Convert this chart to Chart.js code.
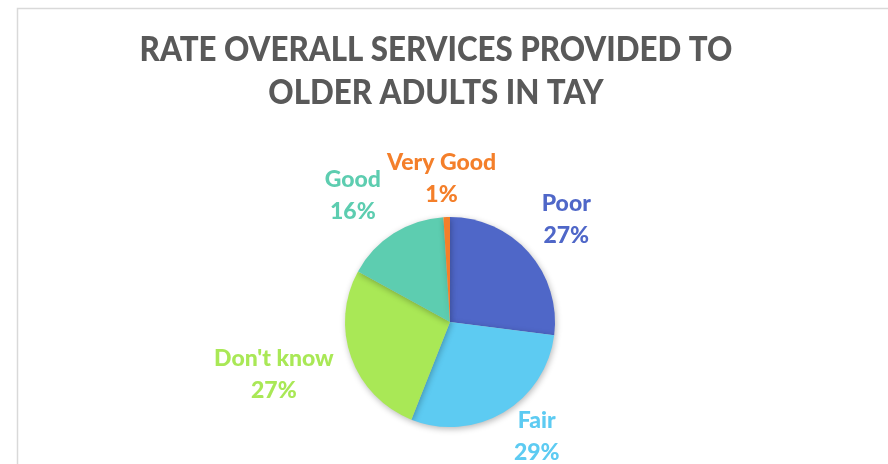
<!DOCTYPE html>
<html>
<head>
<meta charset="utf-8">
<script src="https://cdn.jsdelivr.net/npm/chart.js@4"></script>
<style>
  html, body { margin: 0; padding: 0; background: #fff; }
  #wrap { width: 888px; height: 464px; }
</style>
</head>
<body>
<div id="wrap"><canvas id="ratePie" width="888" height="464"></canvas></div>
<script>
// ratings, clockwise from 12 o'clock
var categories = ['Poor', 'Fair', "Don't know", 'Good', 'Very Good'];
var percents = [27, 29, 27, 16, 1];
var sliceColors = ['#4F67C8', '#5DCBF2', '#A9E856', '#5DCDB0', '#F47F2A'];
var titleLines = ['RATE OVERALL SERVICES PROVIDED TO', 'OLDER ADULTS IN TAY'];

// label placement: distance from pie centre along the slice middle, plus a nudge
var labelDist = [155, 143, 184, 159, 143];
var labelNudge = [[0, 0], [14, -9], [-3, -10], [-12, 8], [-4, 0]];

var FONT = 'Lato, "Open Sans", sans-serif';

var frameAndTitle = {
  id: 'frameAndTitle',
  beforeDraw: function (chart) {
    var c = chart.ctx;
    c.save();
    c.fillStyle = '#fff';
    c.fillRect(0, 0, chart.width, chart.height);
    c.strokeStyle = '#d9d9d9';
    c.lineWidth = 1.5;
    c.beginPath();
    c.moveTo(17.5, chart.height);
    c.lineTo(17.5, 8.5);
    c.lineTo(chart.width, 8.5);
    c.stroke();

    // title is squeezed a little sideways so it reads like a condensed face
    c.fillStyle = '#595959';
    c.font = '900 34px ' + FONT;
    c.textAlign = 'center';
    c.textBaseline = 'middle';
    c.translate(436, 0);
    c.scale(0.92, 1);
    c.fillText(titleLines[0], 0, 50);
    c.fillText(titleLines[1], 0, 93);
    c.restore();
  }
};

var sliceShadow = {
  id: 'sliceShadow',
  beforeDatasetDraw: function (chart) {
    var c = chart.ctx;
    c.save();
    c.shadowColor = 'rgba(0,0,0,0.28)';
    c.shadowBlur = 6;
    c.shadowOffsetX = 1;
    c.shadowOffsetY = 2;
  },
  afterDatasetDraw: function (chart) {
    chart.ctx.restore();
  }
};

var sliceLabels = {
  id: 'sliceLabels',
  afterDatasetsDraw: function (chart) {
    var c = chart.ctx;
    var meta = chart.getDatasetMeta(0);
    c.save();
    c.font = '900 23px ' + FONT;
    c.textAlign = 'center';
    c.textBaseline = 'middle';
    meta.data.forEach(function (arc, i) {
      var mid = (arc.startAngle + arc.endAngle) / 2;
      var x = arc.x + Math.cos(mid) * labelDist[i] + labelNudge[i][0];
      var y = arc.y + Math.sin(mid) * labelDist[i] + labelNudge[i][1];
      c.fillStyle = sliceColors[i];
      c.fillText(categories[i], x, y - 16);
      c.fillText(percents[i] + '%', x, y + 16);
    });
    c.restore();
  }
};

new Chart(document.getElementById('ratePie'), {
  type: 'pie',
  data: {
    labels: categories,
    datasets: [{
      data: percents,
      backgroundColor: sliceColors,
      borderWidth: 0
    }]
  },
  options: {
    responsive: false,
    animation: false,
    layout: {
      padding: { left: 345, right: 333, top: 217, bottom: 37 }
    },
    plugins: {
      legend: { display: false },
      title: { display: false },
      tooltip: { enabled: false }
    }
  },
  plugins: [frameAndTitle, sliceShadow, sliceLabels]
});
</script>
</body>
</html>
